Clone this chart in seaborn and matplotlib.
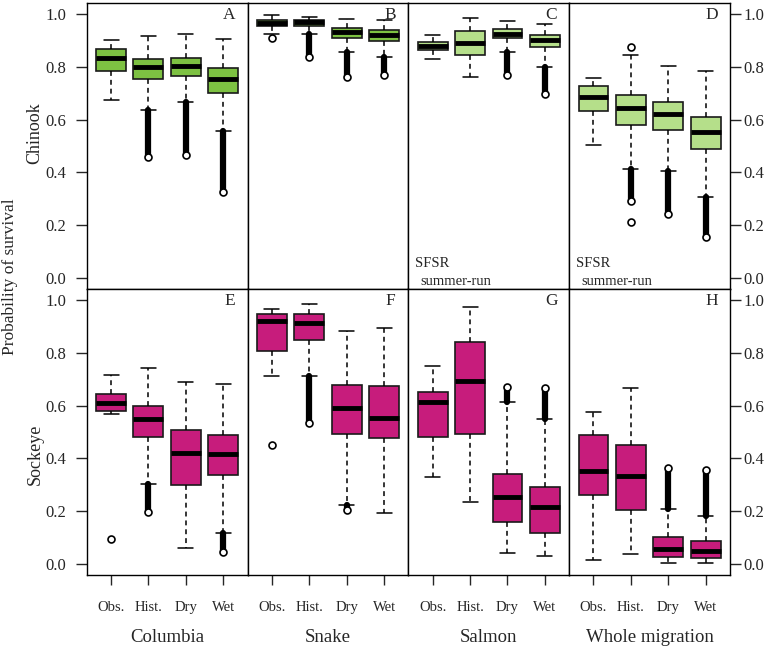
import numpy as np
import pandas as pd
import matplotlib
matplotlib.use("Agg")
import matplotlib.pyplot as plt
import seaborn as sns

# categories
reaches = ["Columbia", "Snake", "Salmon", "Whole migration"]
scenarios = ["Obs.", "Hist.", "Dry", "Wet"]
species = ["Chinook", "Sockeye"]
panel_letters = [["A", "B", "C", "D"], ["E", "F", "G", "H"]]

# box statistics, one row per reach, one entry per scenario
chinook_wlo = [[0.673, 0.636, 0.666, 0.555], [0.923, 0.923, 0.854, 0.835],
               [0.827, 0.759, 0.856, 0.798], [0.502, 0.412, 0.404, 0.309]]
chinook_q1 = [[0.782, 0.753, 0.764, 0.700], [0.952, 0.953, 0.908, 0.897],
              [0.861, 0.845, 0.907, 0.873], [0.633, 0.581, 0.561, 0.488]]
chinook_med = [[0.832, 0.797, 0.801, 0.752], [0.965, 0.967, 0.931, 0.918],
               [0.876, 0.890, 0.924, 0.902], [0.685, 0.642, 0.620, 0.552]]
chinook_q3 = [[0.866, 0.830, 0.831, 0.796], [0.975, 0.977, 0.947, 0.938],
              [0.894, 0.934, 0.941, 0.921], [0.725, 0.694, 0.666, 0.608]]
chinook_whi = [[0.902, 0.917, 0.924, 0.904], [0.994, 0.987, 0.979, 0.977],
               [0.921, 0.984, 0.971, 0.962], [0.757, 0.842, 0.803, 0.783]]
# far end of the dense run of outliers beyond a whisker (None = no run)
chinook_tail = [[None, 0.460, 0.467, 0.328], [None, 0.836, 0.759, 0.769],
                [None, None, 0.769, 0.696], [None, 0.293, 0.243, 0.158]]
# single outliers: (reach, scenario, value)
chinook_single = [(1, 0, 0.908), (3, 1, 0.875), (3, 1, 0.213)]

sockeye_wlo = [[0.567, 0.304, 0.061, 0.118], [0.713, 0.710, 0.223, 0.194],
               [0.330, 0.235, 0.044, 0.031], [0.016, 0.041, 0.004, 0.004]]
sockeye_q1 = [[0.580, 0.482, 0.300, 0.339], [0.807, 0.849, 0.494, 0.479],
              [0.482, 0.494, 0.159, 0.120], [0.262, 0.206, 0.028, 0.025]]
sockeye_med = [[0.611, 0.548, 0.422, 0.417], [0.921, 0.913, 0.592, 0.552],
               [0.614, 0.691, 0.256, 0.215], [0.353, 0.335, 0.060, 0.049]]
sockeye_q3 = [[0.644, 0.600, 0.509, 0.488], [0.944, 0.946, 0.679, 0.675],
              [0.652, 0.839, 0.343, 0.292], [0.487, 0.450, 0.102, 0.087]]
sockeye_whi = [[0.715, 0.743, 0.689, 0.680], [0.966, 0.984, 0.881, 0.893],
               [0.749, 0.971, 0.612, 0.548], [0.577, 0.665, 0.211, 0.181]]
sockeye_tail = [[None, 0.198, None, 0.046], [None, 0.533, 0.205, None],
                [None, None, 0.669, 0.665], [None, None, 0.363, 0.358]]
sockeye_single = [(0, 0, 0.097), (1, 0, 0.449)]

colors = [["#7DC142", "#7DC142", "#B5DF8A", "#B5DF8A"],
          ["#C71C7C", "#C71C7C", "#C71C7C", "#C71C7C"]]

stats = {
    "Chinook": (chinook_wlo, chinook_q1, chinook_med, chinook_q3, chinook_whi,
                chinook_tail, chinook_single),
    "Sockeye": (sockeye_wlo, sockeye_q1, sockeye_med, sockeye_q3, sockeye_whi,
                sockeye_tail, sockeye_single),
}

# five points per box reproduce min / Q1 / median / Q3 / max exactly
rows = []
for sp in species:
    wlo, q1, med, q3, whi = stats[sp][:5]
    for r, reach in enumerate(reaches):
        for s, scen in enumerate(scenarios):
            for v in (wlo[r][s], q1[r][s], med[r][s], q3[r][s], whi[r][s]):
                rows.append({"species": sp, "reach": reach, "scenario": scen, "value": v})
df = pd.DataFrame(rows)

sns.set_theme(style="ticks")
plt.rcParams["font.family"] = ["Liberation Serif", "DejaVu Serif"]
plt.rcParams["axes.edgecolor"] = "black"
plt.rcParams["axes.linewidth"] = 1.0

fig, axes = plt.subplots(2, 4, figsize=(7.71, 6.5), dpi=100)
fig.subplots_adjust(left=0.1125, right=0.9468, top=0.9954, bottom=0.1154,
                    wspace=0, hspace=0)

for i, sp in enumerate(species):
    wlo, q1, med, q3, whi, tail, single = stats[sp]
    for r, reach in enumerate(reaches):
        ax = axes[i, r]
        sub = df[(df.species == sp) & (df.reach == reach)]
        sns.boxplot(data=sub, x="scenario", y="value", order=scenarios, ax=ax,
                    whis=(0, 100), width=0.8, color=colors[i][r], saturation=1,
                    linecolor="#1a1a1a", linewidth=1.2,
                    medianprops=dict(color="black", linewidth=3.5),
                    whiskerprops=dict(color="black", linestyle=(0, (3.2, 2.6)), linewidth=1.1),
                    capprops=dict(color="black", linewidth=1.1))
        # dense outlier runs
        for s in range(4):
            end = tail[r][s]
            if end is None:
                continue
            start = wlo[r][s] if end < wlo[r][s] else whi[r][s]
            lc = ax.vlines(s, min(start, end), max(start, end), color="black", lw=4.5)
            lc.set_capstyle("round")
            ax.plot(s, end, "o", mfc="white", mec="black", ms=5, mew=1.2, zorder=5)
        for (rr, s, v) in single:
            if rr == r:
                ax.plot(s, v, "o", mfc="white", mec="black", ms=5, mew=1.2, zorder=5)

        ax.set_xlim(-0.65, 3.65)
        ax.set_ylim(-0.04, 1.04)
        ax.set_xlabel("")
        ax.set_ylabel("")
        ax.set_yticks(np.arange(0, 1.01, 0.2))
        ax.set_yticklabels([f"{t:.1f}" for t in np.arange(0, 1.01, 0.2)])
        ax.tick_params(axis="y", length=8, width=1, labelsize=12,
                       left=(r == 0), labelleft=(r == 0),
                       right=(r == 3), labelright=(r == 3))
        if r == 0:
            ax.tick_params(axis="y", pad=7)
        else:
            ax.tick_params(axis="y", pad=2)
        ax.set_xticks(range(4))
        ax.set_xticklabels(scenarios)
        ax.tick_params(axis="x", length=7.5, width=1, labelsize=10.5, pad=11,
                       bottom=(i == 1), labelbottom=(i == 1))
        for sp_name in ["top", "right", "left", "bottom"]:
            ax.spines[sp_name].set_visible(True)
            ax.spines[sp_name].set_linewidth(1.0)
        ax.text(1 - 18 / 161, 1 - 12 / 286, panel_letters[i][r], transform=ax.transAxes,
                ha="center", va="center", fontsize=12.5)
        if i == 0 and r >= 2:
            ax.text(7 / 161, 0.088, "SFSR", transform=ax.transAxes,
                    ha="left", va="center", fontsize=10.5)
            ax.text(12 / 161, 0.026, "summer-run", transform=ax.transAxes,
                    ha="left", va="center", fontsize=10.5)

# reach names under the columns
for r, reach in enumerate(reaches):
    pos = axes[1, r].get_position()
    fig.text((pos.x0 + pos.x1) / 2, 1 - 638 / 650, reach, ha="center", va="center",
             fontsize=13.5)

fig.text(35 / 771, 1 - 133 / 650, "Chinook", rotation=90, ha="center", va="center",
         fontsize=13)
fig.text(35 / 771, 1 - 454 / 650, "Sockeye", rotation=90, ha="center", va="center",
         fontsize=13)
fig.text(10 / 771, 1 - 277 / 650, "Probability of survival", rotation=90, ha="center",
         va="center", fontsize=12.5)

fig.savefig("out.png", dpi=100)
